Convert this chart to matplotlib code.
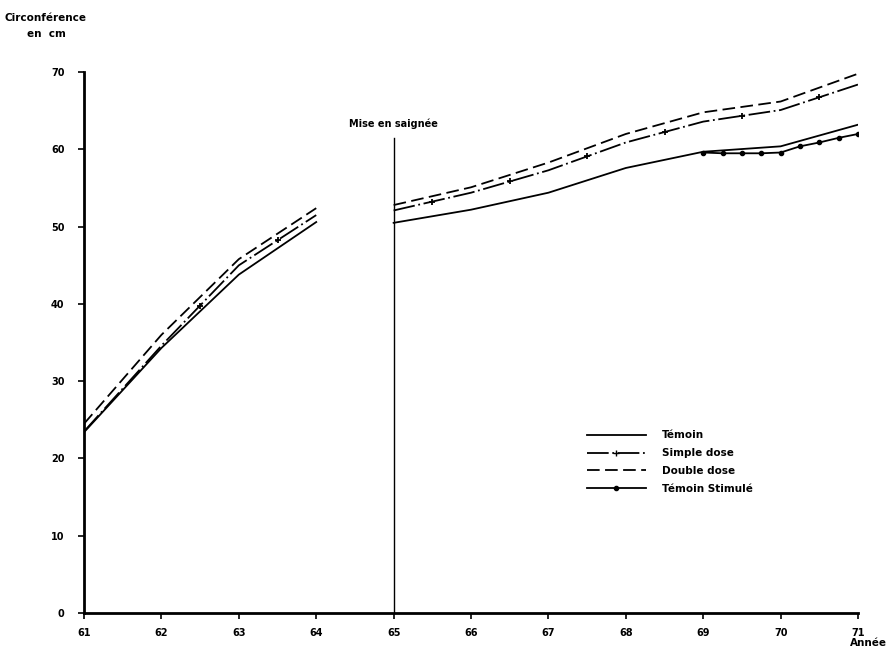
import matplotlib
matplotlib.use("Agg")
import matplotlib.pyplot as plt
import numpy as np
from matplotlib.lines import Line2D

# Data
years_a = [61, 62, 63, 64]
temoin_a = [23.4, 34.3, 43.8, 50.6]
simple_a = [23.5, 34.6, 45.0, 51.5]
double_a = [24.5, 36.0, 45.8, 52.4]

years_b = [65, 66, 67, 68, 69, 70, 71]
temoin_b = [50.5, 52.2, 54.4, 57.6, 59.7, 60.4, 63.2]
simple_b = [52.1, 54.4, 57.3, 60.9, 63.6, 65.1, 68.4]
double_b = [52.8, 55.1, 58.3, 62.0, 64.8, 66.2, 69.8]

years_stim = [69, 69.25, 69.5, 69.75, 70, 70.25, 70.5, 70.75, 71]
stimule = [59.6, 59.5, 59.5, 59.5, 59.6, 60.4, 60.9, 61.5, 62.0]

simple_mark_x = [62.5, 63.5, 65.5, 66.5, 67.5, 68.5, 69.5, 70.5]

xticks = list(range(61, 72))
yticks = list(range(0, 71, 10))
labels = ["Témoin", "Simple dose", "Double dose", "Témoin Stimulé"]

plt.rcParams['font.family'] = ['DejaVu Sans']
fig = plt.figure(figsize=(8.91, 6.56), dpi=100)
ax = fig.add_axes([0.0943, 0.0655, 0.8687, 0.8245])

lw = 1.3
simple_style = (0, (12, 2, 1, 2))
double_style = (0, (7, 3))
for ya, yb, style in [(temoin_a, temoin_b, '-'),
                      (simple_a, simple_b, simple_style),
                      (double_a, double_b, double_style)]:
    ax.plot(years_a, ya, color='black', lw=lw, linestyle=style)
    ax.plot(years_b, yb, color='black', lw=lw, linestyle=style)

# + markers on simple dose
mx = np.array(simple_mark_x)
my_a = np.interp(mx, years_a, simple_a)
my_b = np.interp(mx, years_b, simple_b)
my = np.where(mx >= 65, my_b, my_a)
ax.plot(mx, my, linestyle='none', marker='+', color='black', ms=5, mew=1.3)

ax.plot(years_stim, stimule, color='black', lw=lw, marker='o', ms=3)

# Mise en saignee line
ax.plot([65, 65], [0, 61.5], color='black', lw=1.0)
ax.text(65, 62.6, "Mise en saignée", ha='center', va='bottom', fontsize=7, fontweight='bold')

ax.set_xlim(61, 71)
ax.set_ylim(0, 70)
ax.set_xticks(xticks)
ax.set_xticklabels([str(x) for x in xticks], fontsize=7, fontweight='bold')
ax.set_yticks(yticks)
ax.set_yticklabels([str(y) for y in yticks], fontsize=7, fontweight='bold')
ax.tick_params(axis='x', direction='out', length=4, width=1.2, pad=7)
ax.tick_params(axis='y', direction='out', length=4, width=1.2, pad=10)
for s in ['top', 'right']:
    ax.spines[s].set_visible(False)
ax.spines['left'].set_linewidth(2.0)
ax.spines['bottom'].set_linewidth(2.0)

fig.text(0.005, 0.972, "Circonférence", fontsize=7.5, fontweight='bold', ha='left', va='center')
fig.text(0.030, 0.948, "en  cm", fontsize=7.5, fontweight='bold', ha='left', va='center')
fig.text(0.975, 0.012, "Année", fontsize=7.5, fontweight='bold', ha='center', va='bottom')

# Legend
handles = [
    Line2D([], [], color='black', lw=lw, linestyle='-'),
    Line2D([], [], color='black', lw=lw, linestyle=simple_style, marker='+', markevery=[1], ms=5),
    Line2D([], [], color='black', lw=lw, linestyle=double_style),
    Line2D([], [], color='black', lw=lw, marker='o', ms=3),
]
leg = ax.legend(handles, labels, loc='upper left', bbox_to_anchor=(0.638, 0.355),
                frameon=False, handlelength=5.6, handletextpad=1.6, labelspacing=0.75,
                prop={'weight': 'bold', 'size': 7.5})
fig.savefig("out.png", dpi=100)
